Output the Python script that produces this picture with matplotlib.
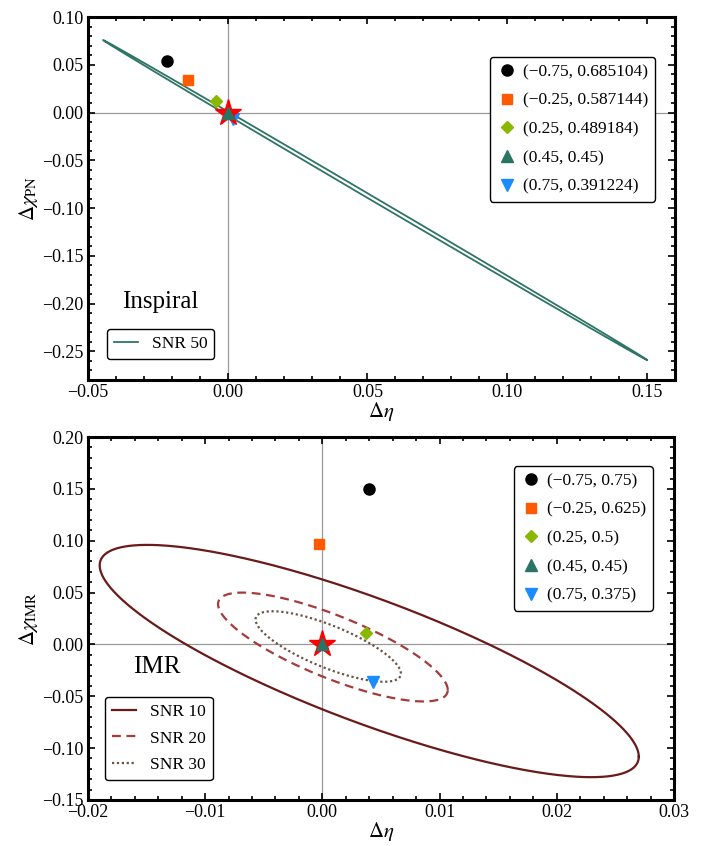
import numpy as np
import matplotlib.pyplot as plt
from matplotlib.ticker import MultipleLocator

plt.rcParams['font.family'] = ['Liberation Serif', 'DejaVu Serif']
plt.rcParams['mathtext.fontset'] = 'stix'

# pontos (q, chi) de cada caso
labels_pn = ["(\u22120.75, 0.685104)", "(\u22120.25, 0.587144)", "(0.25, 0.489184)",
             "(0.45, 0.45)", "(0.75, 0.391224)"]
labels_imr = ["(\u22120.75, 0.75)", "(\u22120.25, 0.625)", "(0.25, 0.5)",
              "(0.45, 0.45)", "(0.75, 0.375)"]

pn_eta = [-0.0218, -0.0143, -0.0043, 0.0, 0.0018]
pn_chi = [0.054, 0.034, 0.0125, 0.0, -0.007]
imr_eta = [0.004, -0.0003, 0.0037, 0.0, 0.0043]
imr_chi = [0.150, 0.097, 0.011, 0.0, -0.036]

# elipses: centro, semi-larguras e defasagem (graus)
pn_center = (0.0527, -0.0915)
pn_half = (0.0973, 0.1675)
pn_phase = 179.16

snr_imr = [10, 20, 30]
imr_centers = [(0.004, -0.016), (0.0009, -0.0025), (0.0005, -0.002)]
imr_halves = [(0.023, 0.112), (0.0098, 0.0525), (0.0062, 0.034)]
imr_phases = [145.4, 142.0, 140.0]

marker_styles = [('o', '#000000', 8), ('s', '#FF5A00', 6.5), ('D', '#8AB800', 6.5),
                 ('^', '#2A7463', 8), ('v', '#1A8CFF', 8)]
imr_styles = [('-', '#6B1A1A'), ((0, (4, 2.5)), '#A63A3A'), ((0, (1, 1.2)), '#6B5545')]


def ellipse(center, half, phase):
    t = np.linspace(0, 2 * np.pi, 600)
    x = center[0] + half[0] * np.cos(t)
    y = center[1] + half[1] * np.cos(t - np.radians(phase))
    return x, y


def style_axes(ax, xmaj, xmin, ymaj, ymin):
    ax.axhline(0, color='#999999', lw=0.9, zorder=0)
    ax.axvline(0, color='#999999', lw=0.9, zorder=0)
    ax.xaxis.set_major_locator(MultipleLocator(xmaj))
    ax.xaxis.set_minor_locator(MultipleLocator(xmin))
    ax.yaxis.set_major_locator(MultipleLocator(ymaj))
    ax.yaxis.set_minor_locator(MultipleLocator(ymin))
    ax.tick_params(which='both', direction='in', top=True, right=True, labelsize=13,
                   width=1.2, color='black', pad=3)
    ax.tick_params(which='major', length=5)
    ax.tick_params(which='minor', length=3)
    for s in ax.spines.values():
        s.set_linewidth(2.2)


def draw_points(ax, etas, chis, labels):
    ax.plot(0, 0, marker='*', ms=20, color='#FF0000', ls='none', zorder=4)
    handles = []
    for (m, c, ms), x, y, lab in zip(marker_styles, etas, chis, labels):
        z = 5 if m == '^' else 3
        h, = ax.plot(x, y, marker=m, ms=ms, color=c, ls='none', zorder=z, label=lab)
        handles.append(h)
    return handles


fig = plt.figure(figsize=(7.06, 8.46), dpi=100)

# ---- Inspiral ----
ax1 = fig.add_axes([0.1246, 0.5508, 0.8314, 0.429])
x, y = ellipse(pn_center, pn_half, pn_phase)
line_pn, = ax1.plot(x, y, color='#2E7565', lw=1.3, zorder=2)
h1 = draw_points(ax1, pn_eta, pn_chi, labels_pn)
ax1.set_xlim(-0.05, 0.16)
ax1.set_ylim(-0.28, 0.10)
style_axes(ax1, 0.05, 0.01, 0.05, 0.01)
ax1.set_xlabel(r'$\Delta\eta$', fontsize=15, labelpad=-1)
ax1.set_ylabel(r'$\Delta\chi_{\rm PN}$', fontsize=15, labelpad=2)
leg = ax1.legend(handles=h1, loc='upper right', bbox_to_anchor=(0.966, 0.89),
                 borderaxespad=0, fontsize=12.5, handletextpad=0.3, handlelength=1.2,
                 labelspacing=0.72, frameon=True, fancybox=True, edgecolor='black',
                 framealpha=1)
leg.get_frame().set_linewidth(1.0)
ax1.add_artist(leg)
leg2 = ax1.legend([line_pn], ['SNR 50'], loc='lower left', bbox_to_anchor=(0.032, 0.058),
                  borderaxespad=0, fontsize=12.5, handlelength=1.4, frameon=True,
                  fancybox=True, edgecolor='black', framealpha=1)
leg2.get_frame().set_linewidth(1.0)
ax1.text(0.123, 0.215, 'Inspiral', transform=ax1.transAxes, fontsize=18,
         ha='center', va='center')

# ---- IMR ----
ax2 = fig.add_axes([0.1246, 0.0544, 0.830, 0.429])
imr_lines = []
for c, hw, ph, (ls, col) in zip(imr_centers, imr_halves, imr_phases, imr_styles):
    x, y = ellipse(c, hw, ph)
    l, = ax2.plot(x, y, ls=ls, color=col, lw=1.6, zorder=2)
    imr_lines.append(l)
h2 = draw_points(ax2, imr_eta, imr_chi, labels_imr)
ax2.set_xlim(-0.02, 0.03)
ax2.set_ylim(-0.15, 0.20)
style_axes(ax2, 0.01, 0.002, 0.05, 0.01)
ax2.set_xlabel(r'$\Delta\eta$', fontsize=15, labelpad=-1)
ax2.set_ylabel(r'$\Delta\chi_{\rm IMR}$', fontsize=15, labelpad=2)
leg3 = ax2.legend(handles=h2, loc='upper right', bbox_to_anchor=(0.964, 0.92),
                  borderaxespad=0, fontsize=12.5, handletextpad=0.3, handlelength=1.2,
                  labelspacing=0.72, frameon=True, fancybox=True, edgecolor='black',
                  framealpha=1)
leg3.get_frame().set_linewidth(1.0)
ax2.add_artist(leg3)
leg4 = ax2.legend(imr_lines, ['SNR %d' % s for s in snr_imr], loc='lower left',
                  bbox_to_anchor=(0.029, 0.055), borderaxespad=0, fontsize=12.5,
                  handlelength=1.4, labelspacing=0.6, frameon=True, fancybox=True,
                  edgecolor='black', framealpha=1)
leg4.get_frame().set_linewidth(1.0)
ax2.text(0.118, 0.366, 'IMR', transform=ax2.transAxes, fontsize=18,
         ha='center', va='center')

fig.savefig('out.png', dpi=100)
